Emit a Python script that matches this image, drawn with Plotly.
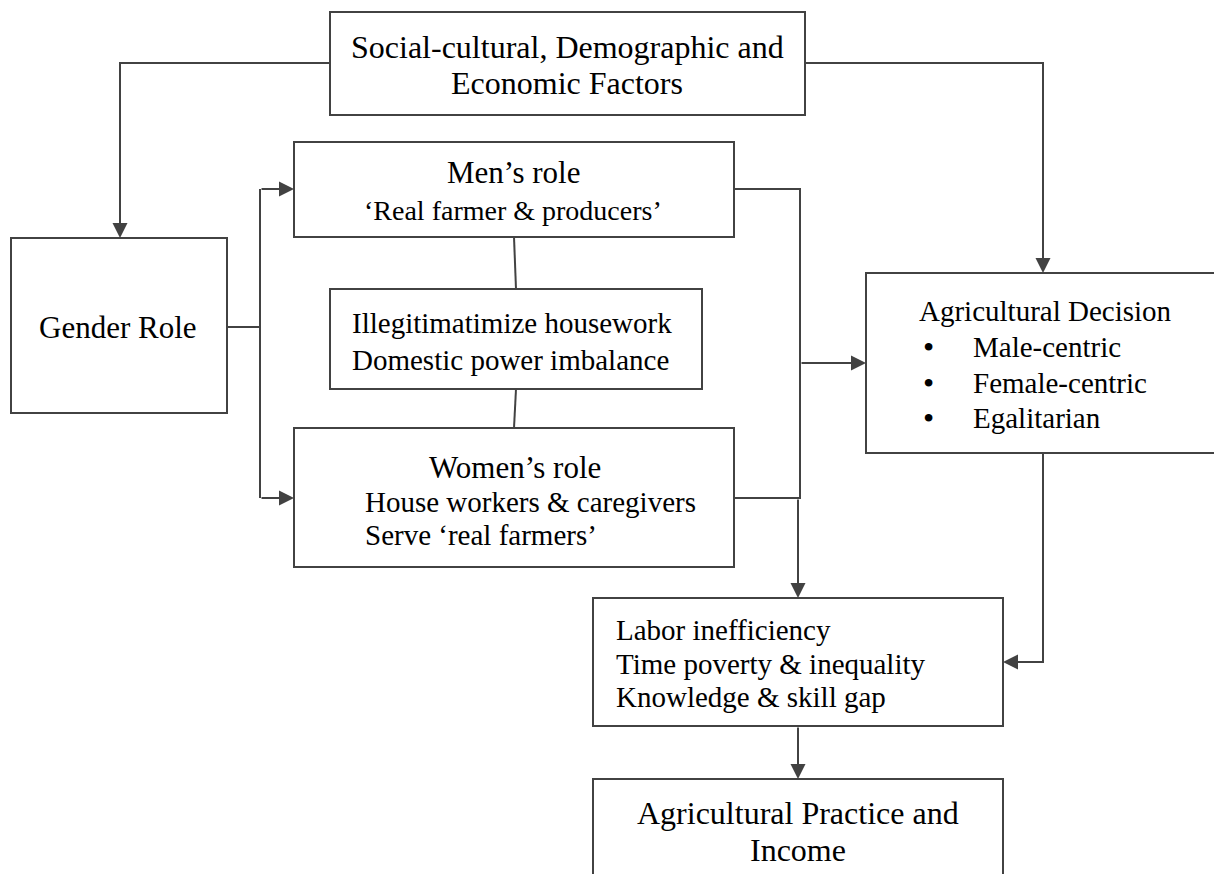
import plotly.graph_objects as go

# box texts
top_lines = ["Social-cultural, Demographic and", "Economic Factors"]
gender_lines = ["Gender Role"]
men_lines = ["Men\u2019s role", "\u2018Real farmer & producers\u2019"]
illeg_lines = ["Illegitimatimize housework", "Domestic power imbalance"]
women_title = "Women\u2019s role"
women_items = ["House workers & caregivers", "Serve \u2018real farmers\u2019"]
decision_title = "Agricultural Decision"
decision_items = ["Male-centric", "Female-centric", "Egalitarian"]
labor_lines = ["Labor inefficiency", "Time poverty & inequality", "Knowledge & skill gap"]
practice_lines = ["Agricultural Practice and", "Income"]

W, H = 1222, 874
OFF = 8  # default page margin of the html body
LINE = "#424242"
FONT = "Liberation Serif"

# box geometry: x0, x1, y0, y1 (pixels, y downwards)
geom = {
    "top": (330, 805, 12, 115),
    "gender": (11, 227, 238, 413),
    "men": (294, 734, 142, 237),
    "illeg": (330, 702, 289, 389),
    "women": (294, 734, 428, 567),
    "decision": (866, 1220, 273, 453),
    "labor": (593, 1003, 598, 726),
    "practice": (593, 1003, 779, 900),
}

fig = go.Figure()
shapes = []
annotations = []

for k, (x0, x1, y0, y1) in geom.items():
    shapes.append(dict(type="rect", x0=x0, x1=x1, y0=y0, y1=y1, xref="x", yref="y",
                       line=dict(color=LINE, width=2), fillcolor="white", layer="above"))


def poly(pts):
    d = "M " + " L ".join(f"{x},{y}" for x, y in pts)
    shapes.append(dict(type="path", path=d, xref="x", yref="y",
                       line=dict(color=LINE, width=2)))


def arrow(tail, tip):
    annotations.append(dict(x=tip[0], y=tip[1], ax=tail[0], ay=tail[1], xref="x", yref="y",
                            axref="x", ayref="y", text="", showarrow=True, arrowhead=2,
                            arrowsize=1.5, arrowwidth=2, arrowcolor=LINE, standoff=0))


def text(x, y, s, size, anchor="center"):
    annotations.append(dict(x=x, y=y, xref="x", yref="y", text=s, showarrow=False,
                            xanchor=anchor, yanchor="middle",
                            font=dict(family=FONT, size=size, color="black")))


# connectors
poly([(330, 63), (120, 63), (120, 225)])
arrow((120, 215), (120, 238))
poly([(805, 63), (1043, 63), (1043, 260)])
arrow((1043, 250), (1043, 273))
poly([(227, 327), (260, 327)])
poly([(260, 189), (260, 498)])
arrow((260, 189), (294, 189))
arrow((260, 498), (294, 498))
poly([(514, 237), (516, 289)])
poly([(516, 389), (514, 428)])
poly([(734, 189), (800, 189), (800, 498), (734, 498)])
arrow((800, 363), (866, 363))
arrow((798, 498), (798, 598))
poly([(1043, 453), (1043, 662), (1015, 662)])
arrow((1043, 662), (1003, 662))
arrow((798, 726), (798, 779))

# texts
text(567, 47, top_lines[0], 32)
text(567, 83, top_lines[1], 32)
text(118, 327, gender_lines[0], 31)
text(513, 172, men_lines[0], 31)
text(513, 210, men_lines[1], 28)
text(350, 323, illeg_lines[0], 29, "left")
text(350, 360, illeg_lines[1], 29, "left")
text(515, 467, women_title, 31)
text(363, 502, women_items[0], 29, "left")
text(363, 535, women_items[1], 29, "left")
text(917, 311, decision_title, 29, "left")
for i, item in enumerate(decision_items):
    text(928, 347 + 35.5 * i, "\u2022", 32)
    text(971, 347 + 35.5 * i, item, 29, "left")
for i, s in enumerate(labor_lines):
    text(614, 630 + 33.5 * i, s, 29, "left")
text(798, 813, practice_lines[0], 32)
text(798, 850, practice_lines[1], 32)

# figure is shrunk by the body margin so the page does not overflow the window
fig.update_layout(
    width=W - OFF, height=H - OFF,
    margin=dict(l=0, r=0, t=0, b=0),
    paper_bgcolor="white", plot_bgcolor="white",
    xaxis=dict(range=[OFF, W], visible=False, fixedrange=True),
    yaxis=dict(range=[H, OFF], visible=False, fixedrange=True),
    shapes=shapes, annotations=annotations,
    showlegend=False,
)

fig.write_html("out.html")
